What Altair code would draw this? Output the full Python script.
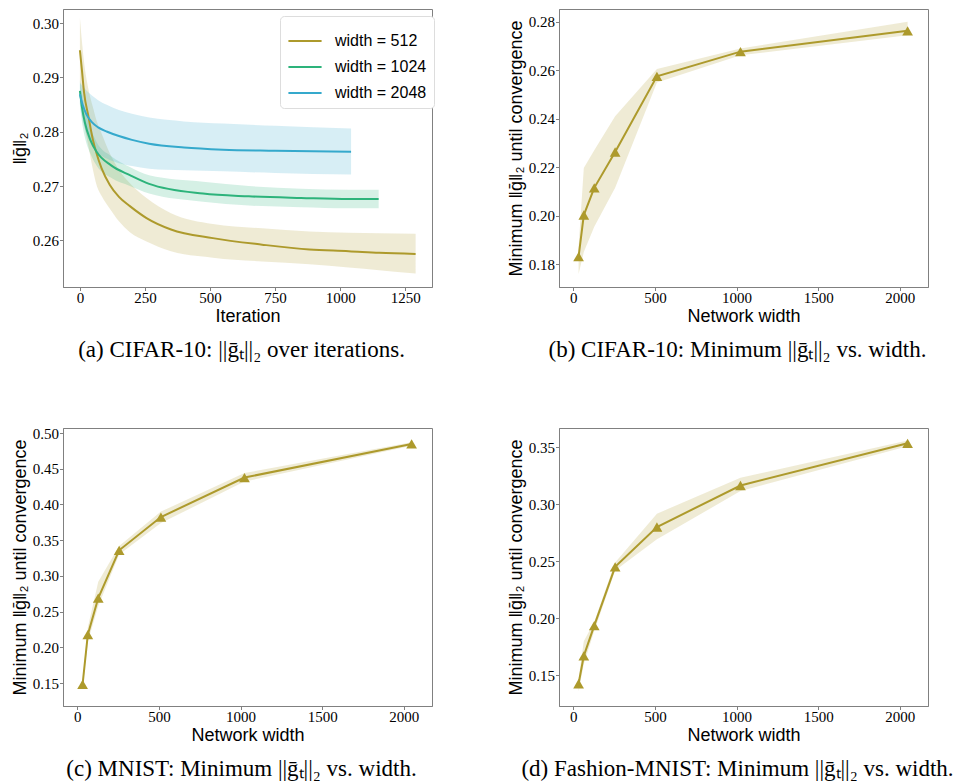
import altair as alt
import pandas as pd

# ---------------- Panel (a): CIFAR-10, ||g||_2 over iterations ----------------
iter_512 = [0, 8, 16, 32, 50, 64, 83, 115, 150, 192, 256, 350, 511, 700, 882, 1033, 1150, 1290]
mean_512 = [0.2950, 0.2912, 0.2872, 0.2830, 0.2785, 0.2760, 0.2733, 0.2702, 0.2680, 0.2663,
            0.2641, 0.2620, 0.2604, 0.2592, 0.2583, 0.2580, 0.2577, 0.2575]
hi_512 = [0.3010, 0.2965, 0.2928, 0.2880, 0.2845, 0.2820, 0.2797, 0.2760, 0.2730, 0.2705,
          0.2678, 0.2650, 0.2630, 0.2622, 0.2616, 0.2614, 0.2613, 0.2612]
lo_512 = [0.2890, 0.2855, 0.2818, 0.2775, 0.2730, 0.2702, 0.2682, 0.2658, 0.2635, 0.2615,
          0.2598, 0.2580, 0.2568, 0.2561, 0.2556, 0.2550, 0.2545, 0.2539]

iter_1024 = [0, 8, 19, 40, 64, 120, 192, 266, 473, 649, 850, 1033, 1148]
mean_1024 = [0.2875, 0.2845, 0.2817, 0.2785, 0.2763, 0.2738, 0.2720, 0.2704, 0.2686, 0.2681,
             0.2678, 0.2676, 0.2676]
hi_1024 = [0.2895, 0.2870, 0.2845, 0.2808, 0.2781, 0.2755, 0.2735, 0.2720, 0.2708, 0.2700,
           0.2695, 0.2693, 0.2693]
lo_1024 = [0.2850, 0.2818, 0.2790, 0.2760, 0.2738, 0.2715, 0.2700, 0.2686, 0.2671, 0.2664,
           0.2661, 0.2659, 0.2659]

iter_2048 = [0, 10, 25, 45, 70, 105, 150, 200, 266, 400, 550, 750, 1042]
mean_2048 = [0.2869, 0.2850, 0.2832, 0.2818, 0.2808, 0.2800, 0.2792, 0.2785, 0.2778, 0.2771,
             0.2767, 0.2765, 0.2763]
hi_2048 = [0.2890, 0.2884, 0.2876, 0.2867, 0.2858, 0.2849, 0.2840, 0.2833, 0.2826, 0.2819,
           0.2815, 0.2811, 0.2806]
lo_2048 = [0.2852, 0.2822, 0.2796, 0.2775, 0.2761, 0.2750, 0.2742, 0.2737, 0.2732, 0.2729,
           0.2727, 0.2724, 0.2721]

series_labels = ["width = 512", "width = 1024", "width = 2048"]
series_colors = ["#ad9a2c", "#2db37b", "#35a9cc"]

# ---------------- Panels (b)-(d): minimum ||g||_2 vs width ----------------
widths = [32, 64, 128, 256, 512, 1024, 2048]

cifar_mean = [0.1831, 0.2003, 0.2115, 0.2263, 0.2575, 0.2677, 0.2763]
cifar_lo = [0.1760, 0.1850, 0.1955, 0.2115, 0.2550, 0.2662, 0.2745]
cifar_hi = [0.1870, 0.2197, 0.2270, 0.2410, 0.2605, 0.2690, 0.2800]

mnist_mean = [0.1482, 0.2179, 0.2690, 0.3359, 0.3824, 0.4377, 0.4847]
mnist_lo = [0.1430, 0.2080, 0.2580, 0.3300, 0.3740, 0.4320, 0.4820]
mnist_hi = [0.1520, 0.2280, 0.2920, 0.3420, 0.3900, 0.4440, 0.4870]

fmnist_mean = [0.1427, 0.1672, 0.1937, 0.2452, 0.2801, 0.3165, 0.3535]
fmnist_lo = [0.1360, 0.1600, 0.1890, 0.2420, 0.2694, 0.3116, 0.3510]
fmnist_hi = [0.1470, 0.1800, 0.1970, 0.2490, 0.2918, 0.3232, 0.3560]

OLIVE = "#ad9a2c"
W, H = 369, 278
SERIF = "Liberation Serif"
SANS = "Liberation Sans"

def caption(text):
    return alt.TitleParams(text=text, orient="bottom", font=SERIF, fontSize=23,
                           fontWeight="normal", color="black", anchor="middle",
                           frame="group", offset=13, dx=-6)

# ----- panel (a)
rows = []
for lab, it, m, lo, hi in zip(series_labels,
                              [iter_512, iter_1024, iter_2048],
                              [mean_512, mean_1024, mean_2048],
                              [lo_512, lo_1024, lo_2048],
                              [hi_512, hi_1024, hi_2048]):
    for a, b, c, d in zip(it, m, lo, hi):
        rows.append({"series": lab, "iter": a, "mean": b, "lo": c, "hi": d})
df_a = pd.DataFrame(rows)

color_a = alt.Color("series:N", scale=alt.Scale(domain=series_labels, range=series_colors),
                    legend=alt.Legend(title=None, orient="none", legendX=217, legendY=7,
                                      fillColor="white", strokeColor="#dddddd",
                                      cornerRadius=4, padding=7, symbolType="stroke",
                                      symbolSize=1100, symbolStrokeWidth=2,
                                      symbolOpacity=1, rowPadding=0,
                                      labelFont=SANS, labelFontSize=16, labelOffset=12,
                                      labelColor="black"))

xa = alt.X("iter:Q", scale=alt.Scale(domain=[-65, 1353], nice=False, zero=False),
           axis=alt.Axis(values=[0, 250, 500, 750, 1000, 1250], format="d", title="Iteration"))
ya_axis = alt.Axis(values=[0.26, 0.27, 0.28, 0.29, 0.30], format=".2f", title="‖ḡ‖₂")
ya_scale = alt.Scale(domain=[0.2514, 0.3026], nice=False, zero=False)

band_a = alt.Chart(df_a).mark_area(opacity=0.2, interpolate="monotone").encode(
    x=xa,
    y=alt.Y("lo:Q", scale=ya_scale, axis=ya_axis),
    y2="hi:Q",
    color=color_a,
)
line_a = alt.Chart(df_a).mark_line(strokeWidth=2, interpolate="monotone").encode(
    x=xa,
    y=alt.Y("mean:Q", scale=ya_scale, axis=ya_axis),
    color=color_a,
)
chart_a = alt.layer(band_a, line_a).properties(
    width=W, height=H, title=caption("(a) CIFAR-10: ||ḡₜ||₂ over iterations."))

# ----- panels (b)-(d)
def width_panel(mean, lo, hi, ydom, yvals, cap):
    df = pd.DataFrame({"width": widths, "mean": mean, "lo": lo, "hi": hi})
    x = alt.X("width:Q", scale=alt.Scale(domain=[-88, 2173], nice=False, zero=False),
              axis=alt.Axis(values=[0, 500, 1000, 1500, 2000], format="d",
                            title="Network width"))
    ys = alt.Scale(domain=ydom, nice=False, zero=False)
    yax = alt.Axis(values=yvals, format=".2f", title="Minimum ‖ḡ‖₂ until convergence")
    band = alt.Chart(df).mark_area(color=OLIVE, opacity=0.2).encode(
        x=x, y=alt.Y("lo:Q", scale=ys, axis=yax), y2="hi:Q")
    line = alt.Chart(df).mark_line(color=OLIVE, strokeWidth=2).encode(
        x=x, y=alt.Y("mean:Q", scale=ys, axis=yax))
    pts = alt.Chart(df).mark_point(shape="triangle-up", filled=True, color=OLIVE,
                                   opacity=1, size=115).encode(
        x=x, y=alt.Y("mean:Q", scale=ys, axis=yax))
    return alt.layer(band, line, pts).properties(width=W, height=H, title=caption(cap))

chart_b = width_panel(cifar_mean, cifar_lo, cifar_hi, [0.1706, 0.2853],
                      [0.18, 0.20, 0.22, 0.24, 0.26, 0.28],
                      "(b) CIFAR-10: Minimum ||ḡₜ||₂ vs. width.")
chart_c = width_panel(mnist_mean, mnist_lo, mnist_hi, [0.118, 0.507],
                      [0.15, 0.20, 0.25, 0.30, 0.35, 0.40, 0.45, 0.50],
                      "(c) MNIST: Minimum ||ḡₜ||₂ vs. width.")
chart_d = width_panel(fmnist_mean, fmnist_lo, fmnist_hi, [0.1232, 0.3669],
                      [0.15, 0.20, 0.25, 0.30, 0.35],
                      "(d) Fashion-MNIST: Minimum ||ḡₜ||₂ vs. width.")

chart = alt.vconcat(
    alt.hconcat(chart_a, chart_b, spacing=73),
    alt.hconcat(chart_c, chart_d, spacing=73),
    spacing=63,
).properties(padding={"left": 2, "top": 0, "right": 0, "bottom": 0},
             background="white").configure_view(
    stroke="#808080", strokeWidth=1
).configure_axis(
    grid=False, domainColor="#808080", tickColor="#808080", tickSize=3.5,
    labelFont=SERIF, labelFontSize=15, labelColor="black", labelPadding=1,
    titleFont=SANS, titleFontSize=18, titleFontWeight="normal", titleColor="black",
    titlePadding=3,
).configure_axisX(titlePadding=2, labelPadding=0)

chart.save("out.html", embed_options={"renderer": "svg", "actions": False})
